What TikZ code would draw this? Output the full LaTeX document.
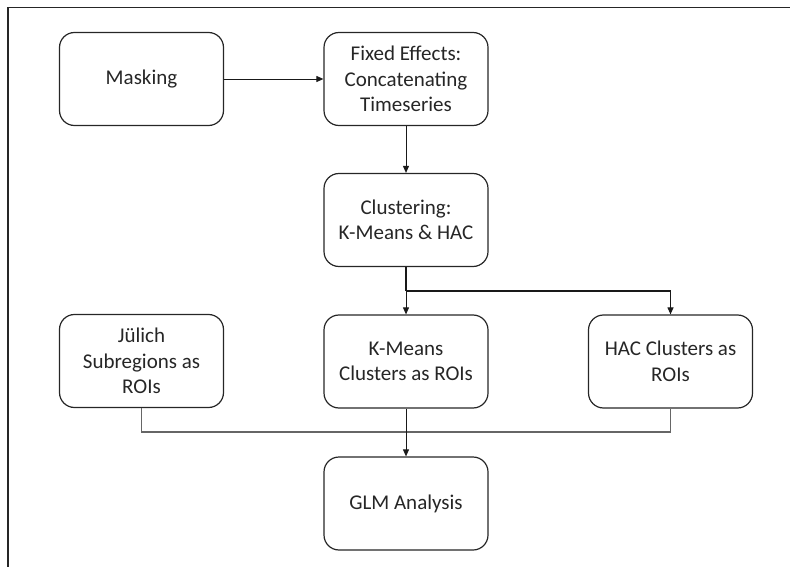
\documentclass[tikz,border=0pt]{standalone}
\usepackage{fontspec}
\setmainfont{Carlito}
\usetikzlibrary{arrows.meta}
\begin{document}
\begin{tikzpicture}[x=1pt,y=-1pt,
  box/.style={draw=black!85, line width=1.2pt, rounded corners=15pt, minimum width=164pt, minimum height=93pt, align=center, font=\fontsize{21}{25.5}\selectfont, text=black!85, inner sep=2pt},
  arr/.style={draw=black!90, line width=0.9pt, -{Triangle[length=7pt,width=6pt]}},
  gline/.style={draw=black!60, line width=1.1pt}]
\useasboundingbox (0,0) rectangle (790,567);
\draw[line width=1.6pt, black!85] (8,567) -- (8,7.5) -- (790,7.5);
\node[box] (mask) at (141.5,79) {Masking};
\node[box] (fixed) at (406,79) {Fixed Effects:\\Concatenating\\Timeseries};
\node[box] (clust) at (406,220) {Clustering:\\K-Means \& HAC};
\node[box] (jul) at (141.5,361) {Jülich\\Subregions as\\ROIs};
\node[box] (km) at (406,361.5) {K-Means\\Clusters as ROIs};
\node[box] (hac) at (670.5,361.5) {HAC Clusters as\\ROIs};
\node[box] (glm) at (406,503.5) {GLM Analysis};
\coordinate (split) at (406,291);
\coordinate (hacTop) at (670.5,291);
\coordinate (jb) at (141.5,432);
\coordinate (hb) at (670.5,432);
\draw[arr] (mask) -- (fixed);
\draw[arr] (fixed) -- (clust);
\draw[draw=black!90, line width=1.1pt] (clust.south) -- (split);
\draw[arr] (split) -- (km);
\draw[arr, line width=1.1pt] (split) -- (hacTop) -- (hac.north);
\draw[gline] (jul.south) -- (jb) -- (hb) -- (hac.south);
\draw[arr] (km) -- (glm);
\end{tikzpicture}
\end{document}
